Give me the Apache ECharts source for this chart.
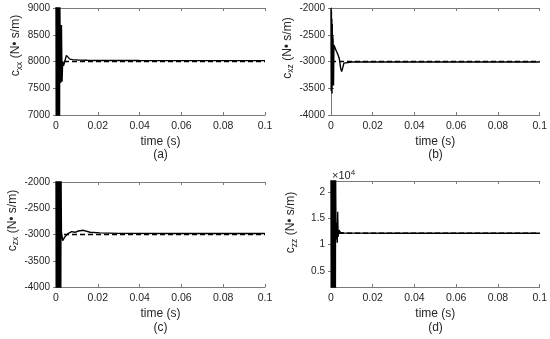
<!DOCTYPE html>
<html><head><meta charset="utf-8">
<script src="https://cdn.jsdelivr.net/npm/echarts@6/dist/echarts.min.js"></script>
<style>html,body{margin:0;padding:0;background:#fff}#c{width:550px;height:339px}</style>
</head><body><div id="c"></div>
<script>
// ---- data (time in s) ----
const xTicks = [0, 0.02, 0.04, 0.06, 0.08, 0.1];

// (a) c_xx
const tA = [0,0.0001,0.0002,0.0003,0.0004,0.0005,0.0006,0.0007,0.0008,0.0009,0.0010,0.0011,0.0012,0.0013,0.0014,0.0015,0.0016,0.0017,0.0018,
            0.0022,0.0026,0.0029,0.0032,0.0036,0.0042,0.0050,0.0057,0.0066,0.0080,0.011,0.015,0.02,0.04,0.07,0.1];
const vA = [9200,6800,9200,6800,9200,6800,9200,6800,9200,6800,9200,6800,9200,6800,9200,6800,9200,6800,9200,
            7600,8680,7620,8000,7920,7950,8115,8080,8045,8035,8025,8022,8020,8018,8016,8016];
const tRefA = [0, 0.1];
const vRefA = [8000, 8000];

// (b) c_xz
const tB = [0,0.0001,0.0002,0.0003,0.0004,0.0005,0.0006,0.0007,0.0008,0.0010,0.0012,0.0014,0.0024,0.0033,0.0040,0.0046,0.0051,0.0056,0.0062,0.0070,0.010,0.02,0.05,0.1];
const vB = [-2000,-3550,-2050,-3500,-2200,-3600,-2300,-3400,-2500,-2600,-3450,-2690,-2790,-2870,-2950,-3120,-3190,-3120,-3030,-3012,-3010,-3010,-3010,-3010];
const tRefB = [0, 0.1];
const vRefB = [-3000, -3000];

// (c) c_zx
const tC = [0,0.0001,0.0002,0.0003,0.0004,0.0005,0.0006,0.0007,0.0008,0.0009,0.0010,0.0011,0.0012,0.0013,0.0014,0.0015,0.0016,0.0017,0.0018,0.0019,0.0020,0.0021,0.0022,0.0023,0.0024,
            0.0026,0.0032,0.0043,0.0059,0.0075,0.0091,0.0107,0.0131,0.0163,0.021,0.03,0.06,0.1];
const vC = [-1800,-4200,-1800,-4200,-1800,-4200,-1800,-4200,-1800,-4200,-1800,-4200,-1800,-4200,-1800,-4200,-1800,-4200,-1800,-4200,-1800,-4200,-1800,-4200,-1800,
            -2950,-3115,-3041,-2977,-2946,-2958,-2933,-2920,-2958,-2970,-2978,-2980,-2980];
const tRefC = [0, 0.1];
const vRefC = [-3000, -3000];

// (d) c_zz
const tD = [0,0.0001,0.0002,0.0003,0.0004,0.0005,0.0006,0.0007,0.0008,0.0009,0.0010,0.0011,0.0012,0.0013,0.0014,0.0015,0.0016,0.0017,0.0018,0.0019,0.0020,0.0021,0.0022,
            0.0024,0.0027,0.0030,0.0032,0.0034,0.0038,0.0045,0.006,0.01,0.03,0.1];
const vD = [24000,0,24000,0,24000,0,24000,0,24000,0,24000,0,24000,0,24000,0,24000,0,24000,0,24000,0,24000,
            11000,14200,10400,16300,11500,12800,12350,12250,12220,12200,12200];
const tRefD = [0, 0.1];
const vRefD = [12200, 12200];

const yTicksD = [5000, 10000, 15000, 20000];

// ---- build ----
const zip = (t, v) => t.map((x, i) => [x, v[i]]);
const TXT = '#262626', AX = '#7a7a7a', FF = 'Liberation Sans, Arial, sans-serif';

const grids = [
  {left: 56, top: 8, width: 209, height: 107},
  {left: 331, top: 8, width: 209, height: 107},
  {left: 56, top: 182, width: 209, height: 105},
  {left: 331, top: 181, width: 209, height: 106}
];
const yRanges = [[7000, 9000], [-4000, -2000], [-4000, -2000], [1900, 22200]];
const yNames = ['xx', 'xz', 'zx', 'zz'];
const namePad = [32, 27, 28, 23];

const xAxis = [], yAxis = [];
grids.forEach((g, i) => {
  const line = {show: true, lineStyle: {color: AX, width: 1}};
  const tick = {show: true, inside: true, length: 3, lineStyle: {color: AX, width: 1}};
  xAxis.push({
    type: 'value', gridIndex: i, min: 0, max: 0.1, interval: 0.02, position: 'bottom',
    axisLine: line, axisTick: tick, splitLine: {show: false},
    axisLabel: {color: TXT, fontSize: 10.5, fontFamily: FF, margin: 6},
    name: 'time (s)', nameLocation: 'middle', nameGap: 21,
    nameTextStyle: {color: TXT, fontSize: 12, fontFamily: FF}
  });
  xAxis.push({
    type: 'value', gridIndex: i, min: 0, max: 0.1, interval: 0.02, position: 'top',
    axisLine: line, axisTick: tick, splitLine: {show: false}, axisLabel: {show: false}
  });
  const yl = {
    type: 'value', gridIndex: i, min: yRanges[i][0], max: yRanges[i][1], position: 'left',
    axisLine: line, axisTick: tick, splitLine: {show: false},
    axisLabel: {color: TXT, fontSize: 10, fontFamily: FF, margin: 6, formatter: v => String(v)},
    name: '{c|c}{s|' + yNames[i] + '}{t| (N\u2022 s/m)}', nameLocation: 'middle', nameGap: 34, nameRotate: 90,
    nameTextStyle: {
      color: TXT, fontFamily: FF, padding: [0, 0, 0, namePad[i]],
      rich: {
        c: {fontSize: 12, lineHeight: 12, verticalAlign: 'top', color: TXT, fontFamily: FF},
        s: {fontSize: 8.5, lineHeight: 9, padding: [5, 0, 0, 0], verticalAlign: 'top', color: TXT, fontFamily: FF},
        t: {fontSize: 12, lineHeight: 12, verticalAlign: 'top', color: TXT, fontFamily: FF}
      }
    }
  };
  const yr = {
    type: 'value', gridIndex: i, min: yRanges[i][0], max: yRanges[i][1], position: 'right',
    axisLine: line, axisTick: tick, splitLine: {show: false}, axisLabel: {show: false}
  };
  if (i < 3) {
    yl.interval = 500; yr.interval = 500;
  } else {
    yl.axisLabel.customValues = yTicksD;
    yl.axisLabel.formatter = v => String(v / 10000);
    yl.axisTick = Object.assign({}, tick, {customValues: yTicksD});
    yr.axisTick = Object.assign({}, tick, {customValues: yTicksD});
  }
  yAxis.push(yl, yr);
});

const sets = [[tA, vA, tRefA, vRefA], [tB, vB, tRefB, vRefB], [tC, vC, tRefC, vRefC], [tD, vD, tRefD, vRefD]];
const series = [];
sets.forEach((s, i) => {
  series.push({
    type: 'line', xAxisIndex: 2 * i, yAxisIndex: 2 * i, data: zip(s[2], s[3]),
    showSymbol: false, lineStyle: {color: '#000', width: 1.6, type: [5, 3]}, z: 2, silent: true
  });
  series.push({
    type: 'line', xAxisIndex: 2 * i, yAxisIndex: 2 * i, data: zip(s[0], s[1]),
    showSymbol: false, lineStyle: {color: '#000', width: 1.4}, z: 3, clip: true, silent: true
  });
});

const lbl = (t, x, y) => ({type: 'text', x: x, y: y,
  style: {text: t, fill: TXT, fontSize: 12, fontFamily: FF, align: 'center', verticalAlign: 'middle'}});

const option = {
  animation: false,
  backgroundColor: '#fff',
  grid: grids,
  xAxis: xAxis,
  yAxis: yAxis,
  series: series,
  graphic: [
    lbl('(a)', 160.5, 155), lbl('(b)', 435.5, 155), lbl('(c)', 160.5, 328), lbl('(d)', 435.5, 328),
    {type: 'text', x: 332, y: 181, style: {
      text: '{a|\u00d710}{b|4}', fill: TXT, verticalAlign: 'bottom', align: 'left',
      rich: {a: {fontSize: 11, lineHeight: 12, verticalAlign: 'bottom', fontFamily: FF, fill: TXT},
             b: {fontSize: 8, lineHeight: 8, verticalAlign: 'top', padding: [0, 0, 9, 0], fontFamily: FF, fill: TXT}}
    }}
  ]
};
echarts.init(document.getElementById('c'), null, {renderer: 'canvas'}).setOption(option);
</script></body></html>
